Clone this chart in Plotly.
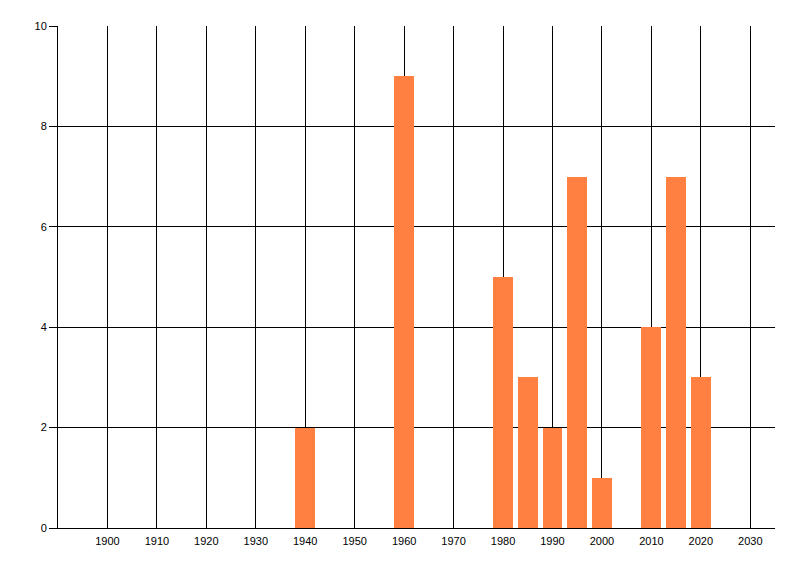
import plotly.graph_objects as go

years = [1940, 1960, 1980, 1985, 1990, 1995, 2000, 2010, 2015, 2020]
counts = [2, 9, 5, 3, 2, 7, 1, 4, 7, 3]
x_ticks = list(range(1900, 2031, 10))
y_ticks = [0, 2, 4, 6, 8, 10]

fig = go.Figure(go.Bar(
    x=years, y=counts, width=4,
    marker=dict(color="#FF8040", line=dict(width=0)),
))

fig.update_layout(
    width=800, height=576,
    margin=dict(l=50, r=33, t=18, b=56),
    paper_bgcolor="white", plot_bgcolor="white",
    font=dict(family="Liberation Sans, Arial, sans-serif", size=11, color="black"),
    showlegend=False,
    bargap=0,
)
fig.update_xaxes(
    range=[1890, 2035], tickvals=x_ticks, ticktext=[str(v) for v in x_ticks],
    showgrid=True, gridcolor="black", gridwidth=1,
    showline=True, linecolor="black", linewidth=1,
    ticks="", zeroline=False, layer="below traces", ticklabelstandoff=3,
)
fig.update_yaxes(
    range=[0, 10], tickvals=y_ticks,
    showgrid=True, gridcolor="black", gridwidth=1,
    showline=True, linecolor="black", linewidth=1,
    ticks="outside", ticklen=8, tickcolor="black", zeroline=False,
    layer="below traces",
)
fig.write_html("out.html")
